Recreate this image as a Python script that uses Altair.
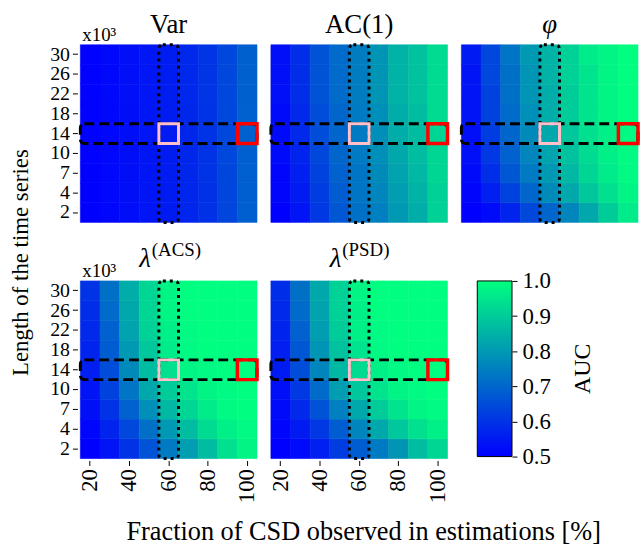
import altair as alt
import pandas as pd

# Grid of the AUC maps
fractions = [20, 30, 40, 50, 60, 70, 80, 90, 100]      # fraction of CSD observed [%]
lengths = [2, 4, 7, 10, 14, 18, 22, 26, 30]            # length of the time series (x10^3)
length_order = [30, 26, 22, 18, 14, 10, 7, 4, 2]       # top to bottom
frac_ticks = [20, 40, 60, 80, 100]
auc_ticks = [0.5, 0.6, 0.7, 0.8, 0.9, 1.0]

# Highlighted cells
focus_frac, ref_frac, focus_len = 60, 100, 14

# AUC, one row per length (2 ... 30), one column per fraction (20 ... 100)
auc_var = [
    [0.500, 0.512, 0.526, 0.540, 0.552, 0.572, 0.596, 0.636, 0.686],
    [0.500, 0.513, 0.527, 0.541, 0.553, 0.573, 0.597, 0.637, 0.687],
    [0.500, 0.513, 0.527, 0.542, 0.554, 0.574, 0.598, 0.638, 0.688],
    [0.501, 0.514, 0.528, 0.542, 0.554, 0.574, 0.599, 0.639, 0.689],
    [0.501, 0.514, 0.528, 0.543, 0.555, 0.575, 0.600, 0.640, 0.690],
    [0.501, 0.514, 0.528, 0.543, 0.555, 0.575, 0.600, 0.640, 0.690],
    [0.501, 0.515, 0.529, 0.543, 0.556, 0.576, 0.601, 0.641, 0.691],
    [0.501, 0.515, 0.529, 0.544, 0.556, 0.576, 0.601, 0.641, 0.691],
    [0.502, 0.515, 0.529, 0.544, 0.556, 0.576, 0.601, 0.641, 0.691],
]
auc_ac1 = [
    [0.500, 0.540, 0.610, 0.670, 0.720, 0.750, 0.800, 0.840, 0.910],
    [0.510, 0.550, 0.620, 0.680, 0.730, 0.760, 0.810, 0.850, 0.910],
    [0.510, 0.560, 0.630, 0.690, 0.730, 0.770, 0.820, 0.860, 0.920],
    [0.520, 0.570, 0.640, 0.700, 0.740, 0.780, 0.830, 0.870, 0.920],
    [0.520, 0.580, 0.650, 0.700, 0.740, 0.780, 0.840, 0.870, 0.920],
    [0.520, 0.580, 0.650, 0.700, 0.740, 0.780, 0.840, 0.870, 0.930],
    [0.530, 0.590, 0.660, 0.710, 0.745, 0.790, 0.850, 0.880, 0.930],
    [0.530, 0.590, 0.660, 0.710, 0.745, 0.790, 0.850, 0.880, 0.930],
    [0.530, 0.590, 0.660, 0.710, 0.745, 0.790, 0.850, 0.880, 0.930],
]
auc_phi = [
    [0.500, 0.520, 0.570, 0.640, 0.700, 0.760, 0.830, 0.900, 0.960],
    [0.510, 0.560, 0.630, 0.700, 0.770, 0.830, 0.890, 0.940, 0.980],
    [0.520, 0.590, 0.670, 0.740, 0.800, 0.860, 0.920, 0.960, 0.990],
    [0.530, 0.610, 0.690, 0.760, 0.820, 0.880, 0.930, 0.970, 0.990],
    [0.530, 0.620, 0.700, 0.770, 0.830, 0.890, 0.940, 0.970, 0.990],
    [0.540, 0.630, 0.710, 0.780, 0.840, 0.900, 0.950, 0.980, 1.000],
    [0.540, 0.630, 0.720, 0.790, 0.840, 0.900, 0.950, 0.980, 1.000],
    [0.540, 0.640, 0.720, 0.790, 0.850, 0.910, 0.950, 0.980, 1.000],
    [0.550, 0.640, 0.730, 0.800, 0.850, 0.910, 0.960, 0.980, 1.000],
]
auc_acs = [
    [0.500, 0.540, 0.600, 0.660, 0.740, 0.810, 0.870, 0.940, 0.980],
    [0.510, 0.570, 0.640, 0.720, 0.800, 0.870, 0.930, 0.970, 0.990],
    [0.530, 0.600, 0.690, 0.780, 0.860, 0.920, 0.960, 0.990, 1.000],
    [0.540, 0.630, 0.730, 0.830, 0.900, 0.950, 0.980, 0.990, 1.000],
    [0.560, 0.650, 0.770, 0.870, 0.940, 0.980, 0.990, 1.000, 1.000],
    [0.570, 0.680, 0.800, 0.890, 0.960, 0.990, 1.000, 1.000, 1.000],
    [0.580, 0.690, 0.820, 0.910, 0.970, 0.990, 1.000, 1.000, 1.000],
    [0.590, 0.710, 0.830, 0.920, 0.980, 1.000, 1.000, 1.000, 1.000],
    [0.600, 0.720, 0.840, 0.920, 0.980, 1.000, 1.000, 1.000, 1.000],
]
auc_psd = [
    [0.500, 0.520, 0.560, 0.620, 0.680, 0.740, 0.790, 0.870, 0.920],
    [0.510, 0.550, 0.610, 0.680, 0.760, 0.830, 0.890, 0.940, 0.970],
    [0.520, 0.580, 0.660, 0.750, 0.830, 0.900, 0.950, 0.980, 0.990],
    [0.530, 0.610, 0.710, 0.810, 0.890, 0.950, 0.980, 0.990, 1.000],
    [0.550, 0.650, 0.760, 0.860, 0.930, 0.970, 0.990, 1.000, 1.000],
    [0.560, 0.670, 0.790, 0.880, 0.950, 0.990, 1.000, 1.000, 1.000],
    [0.570, 0.690, 0.810, 0.900, 0.970, 0.990, 1.000, 1.000, 1.000],
    [0.580, 0.710, 0.820, 0.910, 0.970, 1.000, 1.000, 1.000, 1.000],
    [0.590, 0.720, 0.830, 0.910, 0.980, 1.000, 1.000, 1.000, 1.000],
]

FONT = "Liberation Serif"
W, H = 178, 179
BLUE, GREEN = "#0000ff", "#00ff80"   # ends of the "winter" map
color_scale = alt.Scale(domain=[0.5, 1.0], range=[BLUE, GREEN], interpolate="rgb", clamp=True)


def panel(values, name, sup="", y_axis=None, x_axis=None, unit=False):
    df = pd.DataFrame(
        [{"frac": f, "len": L, "auc": values[i][j]}
         for i, L in enumerate(lengths) for j, f in enumerate(fractions)]
    )
    x_enc = alt.X("frac:O", scale=alt.Scale(domain=fractions, paddingInner=0, paddingOuter=0), axis=x_axis)
    y_enc = alt.Y("len:O", scale=alt.Scale(domain=length_order, paddingInner=0, paddingOuter=0), axis=y_axis)

    heat = alt.Chart(df).mark_rect(strokeWidth=0.6).encode(
        x=x_enc, y=y_enc,
        color=alt.Color("auc:Q", scale=color_scale, legend=None),
        stroke=alt.Stroke("auc:Q", scale=color_scale, legend=None),
    )
    row_box = alt.Chart(pd.DataFrame({"len": [focus_len]})).mark_rect(
        fillOpacity=0, stroke="black", strokeWidth=3, strokeDash=[10, 5], cornerRadius=4
    ).encode(y=y_enc, x=alt.value(0), x2=alt.value(W))
    col_box = alt.Chart(pd.DataFrame({"frac": [focus_frac]})).mark_rect(
        fillOpacity=0, stroke="black", strokeWidth=3, strokeDash=[3, 4], cornerRadius=4
    ).encode(x=x_enc, y=alt.value(0), y2=alt.value(H))
    focus = alt.Chart(pd.DataFrame({"frac": [focus_frac], "len": [focus_len]})).mark_rect(
        fillOpacity=0, stroke="pink", strokeWidth=3
    ).encode(x=x_enc, y=y_enc)
    ref = alt.Chart(pd.DataFrame({"frac": [ref_frac], "len": [focus_len]})).mark_rect(
        fillOpacity=0, stroke="#ff0000", strokeWidth=3.5
    ).encode(x=x_enc, y=y_enc)

    layers = [heat, row_box, col_box, focus, ref]
    if sup:
        layers.append(
            alt.Chart(pd.DataFrame({"t": [name]})).mark_text(
                font=FONT, fontSize=27, fontStyle="italic", align="right", baseline="alphabetic"
            ).encode(text="t:N", x=alt.value(W / 2 - 18), y=alt.value(-14))
        )
        layers.append(
            alt.Chart(pd.DataFrame({"t": [sup]})).mark_text(
                font=FONT, fontSize=19, align="left", baseline="alphabetic"
            ).encode(text="t:N", x=alt.value(W / 2 - 17), y=alt.value(-25))
        )
    else:
        layers.append(
            alt.Chart(pd.DataFrame({"t": [name]})).mark_text(
                font=FONT, fontSize=27, align="center", baseline="alphabetic",
                fontStyle="italic" if name == "φ" else "normal",
            ).encode(text="t:N", x=alt.value(W / 2), y=alt.value(-12))
        )
    if unit:
        layers.append(
            alt.Chart(pd.DataFrame({"t": ["x10³"]})).mark_text(
                font=FONT, fontSize=19, align="left", baseline="alphabetic"
            ).encode(text="t:N", x=alt.value(2), y=alt.value(-4))
        )
    return alt.layer(*layers).properties(width=W, height=H)


def y_axis(title=None, **kw):
    return alt.Axis(title=title, tickSize=5, offset=3, labelPadding=3, labelFontSize=20,
                    domain=False, grid=False, **kw)


def x_axis(title=None, **kw):
    return alt.Axis(title=title, values=frac_ticks, labelAngle=270, labelAlign="right",
                    labelBaseline="middle", tickSize=5, offset=2, labelPadding=3,
                    labelFontSize=23, domain=False, grid=False, **kw)


p_var = panel(auc_var, "Var", unit=True,
              y_axis=y_axis("Length of the time series", titleAngle=270, titleX=-50, titleY=219,
                            titleAlign="center", titleBaseline="alphabetic", titleFontSize=23))
p_ac1 = panel(auc_ac1, "AC(1)")
p_phi = panel(auc_phi, "φ")
p_acs = panel(auc_acs, "λ", "(ACS)", unit=True, y_axis=y_axis(),
              x_axis=x_axis("Fraction of CSD observed in estimations [%]", titleX=285, titleY=80,
                            titleAngle=0, titleAlign="center", titleBaseline="alphabetic",
                            titleFontSize=26.5))
p_psd = panel(auc_psd, "λ", "(PSD)", x_axis=x_axis())

# Colour bar, drawn 16 px into its cell
CB_LEFT, CB_RIGHT = 16, 51
gradient = alt.LinearGradient(
    gradient="linear",
    stops=[alt.GradientStop(offset=0, color=BLUE), alt.GradientStop(offset=1, color=GREEN)],
    x1=0, x2=0, y1=1, y2=0,
)
colorbar = alt.Chart(pd.DataFrame({"lo": [0.5], "hi": [1.0]})).mark_rect(
    fill=gradient, stroke="black", strokeWidth=1
).encode(
    y=alt.Y("lo:Q", scale=alt.Scale(domain=[0.5, 1.0], nice=False, zero=False),
            axis=alt.Axis(orient="right", values=auc_ticks, format=".1f", tickSize=5,
                          labelPadding=5, labelFontSize=23, domain=False, grid=False,
                          title="AUC", titleAngle=270, titleX=78, titleY=88,
                          titleAlign="center", titleBaseline="alphabetic", titleFontSize=24)),
    y2="hi:Q",
    x=alt.value(CB_LEFT), x2=alt.value(CB_RIGHT),
).properties(width=CB_RIGHT, height=177)

chart = alt.concat(
    p_var, p_ac1, p_phi, p_acs, p_psd, colorbar,
    columns=3, spacing=alt.RowColnumber(row=59, column=14), bounds="flush",
).properties(
    padding={"left": 10, "top": 9, "right": 0, "bottom": 0}
).configure(font=FONT).configure_view(strokeWidth=0).configure_axis(
    labelFont=FONT, titleFont=FONT, labelColor="black", titleColor="black",
    tickColor="black", titleFontWeight="normal"
).configure_text(font=FONT, color="black")

chart.save("out.html", embed_options={"renderer": "svg", "actions": False})
